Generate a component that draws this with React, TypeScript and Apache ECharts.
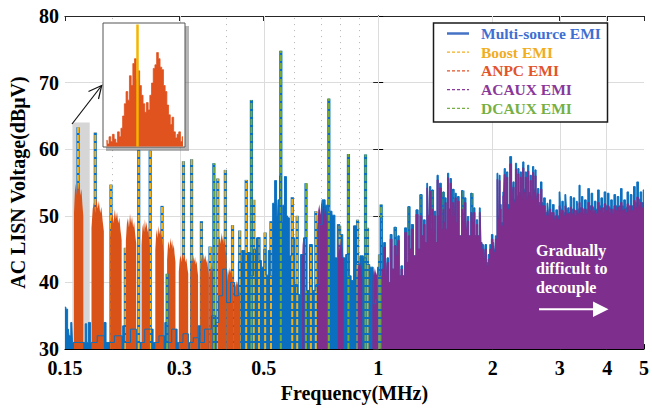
import React, { useEffect, useRef } from 'react';
import * as echarts from 'echarts';

const FONT = "'Liberation Serif', 'Times New Roman', Times, serif";
const BLUE = '#0b6fbf';
const YELLOW = '#EDB120';
const ORANGE = '#D95319';
const PURPLE = '#7E2F8E';
const GREEN = '#77AC30';

// ---- axes ----
const tickFreqs = [0.15, 0.3, 0.5, 1, 2, 3, 4, 5];
const tickLabels = ['0.15', '0.3', '0.5', '1', '2', '3', '4', '5'];
const majorGridFreqs = [0.3, 0.5, 1, 2, 3, 4];
const minorGridFreqs = [0.2, 0.4, 0.6, 0.7, 0.8, 0.9];
const yMin = 30;
const yMax = 80;
const yStep = 10;

// ---- Multi-source EMI envelope (MHz, dBuV) ----
const multiFreq = [0.1500,0.1518,0.1532,0.1545,0.1564,0.1577,0.1689,0.1704,0.1719,0.1740,0.1761,0.1890,0.1913,0.1936,0.2116,0.2141,0.2166,0.2299,0.2327,0.2543,0.2574,0.2731,0.2764,0.2797,0.2933,0.2985,0.3149,0.3187,0.3342,0.3382,0.3422,0.3568,0.3719,0.3763,0.3853,0.3947,0.4041,0.4139,0.4238,0.4340,0.4417,0.4496,0.4577,0.4660,0.4743,0.4828,0.4886,0.4974,0.5034,0.5094,0.5186,0.5247,0.5310,0.5373,0.5437,0.5470,0.5535,0.5585,0.5635,0.5702,0.5770,0.5804,0.5873,0.5979,0.6086,0.6195,0.6307,0.6421,0.6536,0.6653,0.6773,0.6935,0.7060,0.7186,0.7316,0.7491,0.7626,0.7763,0.7856,0.7997,0.8141,0.8287,0.8436,0.8537,0.8690,0.8846,0.9059,0.9221,0.9387,0.9613,0.9785,0.9902,1.0020,1.0080,1.0200,1.0291,1.0383,1.0507,1.0588,1.0696,1.0804,1.0953,1.1084,1.1217,1.1303,1.1417,1.1534,1.1656,1.1808,1.1935,1.2045,1.2153,1.2283,1.2481,1.2652,1.2819,1.2957,1.3088,1.3219,1.3362,1.3482,1.3586,1.3700,1.3806,1.3889,1.4012,1.4113,1.4222,1.4333,1.4436,1.4537,1.4780,1.4826,1.4938,1.5028,1.5154,1.5271,1.5390,1.5518,1.5638,1.5732,1.5872,1.5983,1.6110,1.6206,1.6448,1.6695,1.6793,1.6924,1.7095,1.7197,1.7403,1.7642,1.7767,1.7895,1.8033,1.8174,1.8357,1.8544,1.8687,1.8798,1.9023,1.9170,1.9365,1.9560,1.9747,1.9947,2.0126,2.0222,2.0427,2.0634,2.0733,2.0880,2.0954,2.1167,2.1383,2.1512,2.1676,2.1805,2.2025,2.2328,2.2528,2.2690,2.2866,2.3042,2.3208,2.3371,2.3553,2.3694,2.3905,2.4077,2.4264,2.4452,2.4628,2.4801,2.4994,2.5189,2.5367,2.5550,2.5748,2.5900,2.6133,2.6317,2.6602,2.6838,2.7078,2.7369,2.7649,2.7926,2.8144,2.8311,2.8564,2.8872,2.9165,2.9460,2.9777,3.0043,3.0273,3.0530,3.0812,3.1133,3.1375,3.1635,3.1880,3.2068,3.2396,3.2703,3.3037,3.3369,3.3628,3.3828,3.4088,3.4377,3.4702,3.5057,3.5409,3.5747,3.6110,3.6479,3.6824,3.7201,3.7574,3.7933,3.8318,3.8710,3.9076,3.9475,3.9872,4.0252,4.0661,4.1076,4.1465,4.1889,4.2309,4.2713,4.3146,4.3588,4.4000,4.4450,4.4896,4.5325,4.5785,4.6253,4.6690,4.7168,4.7642,4.8097,4.8584,4.9081,4.9546,5.0000];
const multiLevel = [36.3,36,33,32,34,31,31,33.8,31,34,31,32,34,31,32,33.5,31,33,31,33,31,32,34,31,33,31,32.3,31,31.7,33.5,31,33,35,34,38,42,37,40,38,43,44.8,43,44.5,41,45,46.7,43.3,42.3,45,41.1,44.8,41,51.9,55.3,50,52.4,56,49,51.6,55.9,50,49.7,44,46.7,39.7,38.2,44.2,46.7,38.8,45.7,38.8,39.7,48.7,52.4,51.6,50.7,50.1,43.7,48.7,47.2,43.7,44.2,41,40.3,48.5,42.7,44,43.7,42.7,42.3,36.8,37.4,42.3,41,49.7,42,46,41,43.7,40,47.2,42,48.3,44,47,41,42.5,41,48.2,43,51.4,45,48.7,44,50.9,45,53.2,47,49.4,46,54.9,50,54.4,48,53.9,47,50.7,46,56.1,50,54.9,48,53.6,49,52.7,48,56.4,51,55.6,50,54,50,53.4,49,52.9,47,53.8,49,52.7,48,49.9,47,53.4,49,51.2,47,49.4,47,51.2,46,45.7,44,45.7,43,44.2,45.7,47.2,46,45,47,56.4,50,56.1,51.7,49,53.6,57.1,52,56.6,51.7,58.9,53,55.1,52.5,57.9,53,57.1,53.5,56.6,53,58.1,54,56.6,53,57.6,53.5,56.1,53,57.4,54,56.9,53,54.1,52,55.1,52,52.7,50.5,51.9,50.5,52.4,50.5,51.7,50,50.9,50,53.6,51,52.2,50.5,53.2,51,51.2,50.5,52.9,51,52.7,50.8,52.2,51,54.6,51.2,52.9,51,52.4,51,54.1,51.5,53.4,51.3,52.2,51,53.9,51.5,52.7,51.2,53.6,51.5,53.4,51.3,52.4,51,53.2,51.5,52.9,51.5,54.1,51.5,52.4,51.3,53.6,51.5,53.2,51.5,54.4,52,55.1,52.5,53.6,52,53.9];

// ---- ACAUX EMI broadband part above 1 MHz ----
const acauxFreq = [1.0150,1.0291,1.0383,1.0507,1.0588,1.0696,1.0804,1.0953,1.1084,1.1217,1.1303,1.1417,1.1534,1.1656,1.1808,1.1935,1.2045,1.2153,1.2283,1.2481,1.2652,1.2819,1.2957,1.3088,1.3219,1.3362,1.3482,1.3586,1.3700,1.3806,1.3889,1.4012,1.4113,1.4222,1.4333,1.4436,1.4537,1.4780,1.4826,1.4938,1.5028,1.5154,1.5271,1.5390,1.5518,1.5638,1.5732,1.5872,1.5983,1.6110,1.6206,1.6448,1.6695,1.6793,1.6924,1.7095,1.7197,1.7403,1.7642,1.7767,1.7895,1.8033,1.8174,1.8357,1.8544,1.8687,1.8798,1.9023,1.9170,1.9365,1.9560,1.9747,1.9947,2.0126,2.0222,2.0427,2.0634,2.0733,2.0880,2.0954,2.1167,2.1383,2.1512,2.1676,2.1805,2.2025,2.2328,2.2528,2.2690,2.2866,2.3042,2.3208,2.3371,2.3553,2.3694,2.3905,2.4077,2.4264,2.4452,2.4628,2.4801,2.4994,2.5189,2.5367,2.5550,2.5748,2.5900,2.6133,2.6317,2.6602,2.6838,2.7078,2.7369,2.7649,2.7926,2.8144,2.8311,2.8564,2.8872,2.9165,2.9460,2.9777,3.0043,3.0273,3.0530,3.0812,3.1133,3.1375,3.1635,3.1880,3.2068,3.2396,3.2703,3.3037,3.3369,3.3628,3.3828,3.4088,3.4377,3.4702,3.5057,3.5409,3.5747,3.6110,3.6479,3.6824,3.7201,3.7574,3.7933,3.8318,3.8710,3.9076,3.9475,3.9872,4.0252,4.0661,4.1076,4.1465,4.1889,4.2309,4.2713,4.3146,4.3588,4.4000,4.4450,4.4896,4.5325,4.5785,4.6253,4.6690,4.7168,4.7642,4.8097,4.8584,4.9081,4.9546,5.0000];
const acauxLevel = [30,42,45.3,41,43,40,46.5,42,45.5,44,46.3,41,42,41,47.5,43,47,45,48,44,50.2,45,50,47,48.7,46,54.2,50,53.7,48,51,47,50,46,55.4,50,54.2,48,51,49,52,48,55.7,51,54.9,50,52,50,52.7,49,52.2,47,51,49,52,48,49.2,47,50.5,49,50.5,47,48.7,47,50.5,46,45,43.5,45,42.5,43.5,45,46.5,45.5,44.5,46.5,55.5,49.5,55.3,51,48.5,53,56.2,51.5,55.8,51,57.8,52.5,54.3,52,57,52.5,56.3,53,55.8,52.5,57.2,53.5,55.8,52.5,56.7,53,55.3,52.5,56.5,53.5,56,52.5,53.3,51.5,54,51.5,51.5,50,50.8,50,51,50,50.5,49.5,50,49.5,51.5,50.3,50.8,50,51.5,50.3,50.3,49.8,51.3,50.3,51,50,50.8,50.3,52,50.5,51.2,50.3,51,50.3,52,50.8,51.5,50.5,50.8,50.3,52,50.8,51.2,50.5,51.8,50.8,51.5,50.5,51,50.3,51.5,50.8,51.3,50.8,52,50.8,51,50.5,51.8,50.8,51.5,50.8,52.3,51.2,52.8,51.5,52,51.2,52];

// ---- ACAUX EMI clusters below 1 MHz (start MHz, end MHz, peak dBuV) ----
const acauxHumpStart = [0.6310, 0.6910, 0.7830, 0.8820, 0.9650];
const acauxHumpEnd = [0.6480, 0.7380, 0.8120, 0.9080, 0.9980];
const acauxHumpPeak = [46.8, 52.4, 46.5, 43.5, 42.3];

// ---- ANPC EMI harmonic clusters ----
const anpcStart = [0.1585, 0.1762, 0.1973, 0.2170, 0.2386, 0.2593, 0.2785, 0.2990, 0.3210, 0.3406, 0.3595, 0.3790, 0.4000, 0.4170];
const anpcEnd = [0.1677, 0.1899, 0.2115, 0.2310, 0.2510, 0.2727, 0.2930, 0.3165, 0.3360, 0.3585, 0.3713, 0.3990, 0.4158, 0.4335];
const anpcPeak = [55.6, 52.7, 51.0, 50.3, 49.5, 48.5, 46.7, 44.5, 44.1, 44.4, 42.7, 47.5, 42.3, 40.3];

// ---- Boost EMI spectral lines ----
const boostFreq = [0.1624,0.1803,0.1983,0.2163,0.2345,0.2514,0.2701,0.3075,0.3230,0.3428,0.3612,0.3785,0.3963,0.4139,0.4322,0.4497,0.4707,0.4858,0.5043,0.5225,0.5943,0.6123,0.6653,0.6854,0.7917,0.8825,0.9372,1.0080];
const boostLevel = [63.3,62.5,54.7,45.2,59.9,59.8,51.5,58.2,58.5,49.2,45.4,55.6,56.9,48.6,47.8,55.4,52.4,46.8,47.5,49.2,52.8,50.0,45.5,50.7,48.5,49.4,48.2,44.2];

// ---- DCAUX EMI spectral lines ----
const dcauxFreq = [0.2786,0.3697,0.4640,0.5545,0.6459,0.7416,0.8351,0.9261,1.0182,1.1085,1.2045,1.2957,1.3889,1.4826,1.5732,1.6695,1.7642];
const dcauxLevel = [41.3,57.9,67.4,74.8,54.9,67.6,59.3,59.2,51.7,48.3,51.4,53.2,53.9,53.6,54.0,53.8,53.4];

// ---- highlighted cluster and zoomed inset ----
const highlightFreq = [0.157, 0.1743];
const highlightTop = 64;
const insetLevel = [5,2,8,4,10,6,3,12,8,15,25,35,45,38,58,50,68,72,55,62,50,42,35,28,36,30,42,52,64,67,77,72,65,63,50,45,34,26,18,24,12,7,10,12,4,8];
const insetBoostIndex = 18;

// ---- legend / annotation text ----
const legendNames = ['Multi-source EMI', 'Boost EMI', 'ANPC EMI', 'ACAUX EMI', 'DCAUX EMI'];
const legendTextColors = ['#3f6fd2', '#f0ae1e', '#e2542a', '#8a389a', '#76b044'];
const legendLineColors = ['#4472c4', '#f0b020', '#e2542a', '#8a389a', '#76b044'];
const annotationLines = ['Gradually', 'difficult to', 'decouple'];

const HUMP_SHAPE: number[][] = [[0,0],[0,0.8],[0.1,0.93],[0.2,0.97],[0.3,0.9],[0.4,1],[0.5,0.93],[0.6,0.98],[0.7,0.9],[0.8,0.94],[0.9,0.85],[1,0.78],[1,0]];

export default function App() {
  const ref = useRef<HTMLDivElement>(null);
  useEffect(() => {
    const chart = echarts.init(ref.current!, null, { renderer: 'svg' });
    const lg = (f: number) => Math.log10(f);
    const xMin = lg(0.15);
    const xMax = lg(5);
    const tickVals = tickFreqs.map(lg);
    const fmt = (v: number) => {
      let best = 0, bd = Infinity;
      tickVals.forEach((t, i) => { const d = Math.abs(t - v); if (d < bd) { bd = d; best = i; } });
      return tickLabels[best];
    };
    const bold20 = { fontFamily: FONT, fontWeight: 'bold' as const, fontSize: 20, color: '#000' };

    const stemSeries = (name: string, freqs: number[], vals: number[], color: string) => ({
      type: 'custom', name, xAxisIndex: 0, yAxisIndex: 0,
      data: freqs.map((f, i) => [lg(f), vals[i]]),
      encode: { x: 0, y: 1 },
      clip: true,
      renderItem: (params: any, api: any) => {
        const x = api.value(0), v = api.value(1);
        const p0 = api.coord([x, yMin]);
        const p1 = api.coord([x, v]);
        const shape = { x1: p0[0], y1: p0[1], x2: p1[0], y2: p1[1] };
        return {
          type: 'group',
          children: [
            { type: 'line', shape, style: { stroke: BLUE, lineWidth: 3.2 } },
            { type: 'line', shape, style: { stroke: color, lineWidth: 2, lineDash: [6, 2] } },
          ],
        };
      },
    });

    const humpSeries = (name: string, s: number[], e: number[], p: number[], color: string) => ({
      type: 'custom', name, xAxisIndex: 0, yAxisIndex: 0,
      data: s.map((f, i) => [lg(f), lg(e[i]), p[i]]),
      encode: { x: [0, 1], y: 2 },
      clip: true,
      renderItem: (params: any, api: any) => {
        const x1 = api.value(0), x2 = api.value(1), pk = api.value(2);
        const pts = HUMP_SHAPE.map(([t, h]) => api.coord([x1 + t * (x2 - x1), yMin + h * (pk - yMin)]));
        return { type: 'polygon', shape: { points: pts }, style: { fill: color } };
      },
    });

    const gridLineData = [
      ...majorGridFreqs.map((f) => ({ xAxis: lg(f), lineStyle: { color: '#dcdcdc', width: 1, type: 'solid' } })),
      ...minorGridFreqs.map((f) => ({ xAxis: lg(f), lineStyle: { color: '#b4b4b4', width: 1, type: [1, 5] } })),
    ];

    const legendGraphics: any[] = [
      { type: 'rect', shape: { x: 433.5, y: 23, width: 174, height: 99 }, style: { fill: '#fff', stroke: '#1a1a1a', lineWidth: 1.5 }, z: 100 },
    ];
    legendNames.forEach((n, i) => {
      const y = 33.5 + i * 18.7;
      legendGraphics.push({
        type: 'line', shape: { x1: 447, y1: y, x2: 469, y2: y },
        style: { stroke: legendLineColors[i], lineWidth: i === 0 ? 2.5 : 1.2, lineDash: i === 0 ? null : [3, 2] }, z: 101,
      });
      legendGraphics.push({
        type: 'text', x: 481, y,
        style: { text: n, fill: legendTextColors[i], fontSize: 15.5, fontWeight: 'bold', fontFamily: FONT, verticalAlign: 'middle', textVerticalAlign: 'middle' },
        z: 101,
      });
    });

    const annotation: any[] = annotationLines.map((t, i) => ({
      type: 'text', x: 536, y: 250.7 + i * 18.2,
      style: { text: t, fill: '#fff', fontSize: 16, fontWeight: 'bold', fontFamily: FONT, verticalAlign: 'middle', textVerticalAlign: 'middle' },
      z: 100,
    }));
    annotation.push({ type: 'line', shape: { x1: 539, y1: 309.3, x2: 596, y2: 309.3 }, style: { stroke: '#fff', lineWidth: 2 }, z: 100 });
    annotation.push({ type: 'polygon', shape: { points: [[593, 301.5], [608.5, 309.3], [593, 317]] }, style: { fill: '#fff' }, z: 100 });

    const insetFrame: any[] = [
      { type: 'rect', shape: { x: 106, y: 26, width: 83, height: 125 }, style: { fill: 'rgba(90,90,90,0.45)' }, z: 50 },
      { type: 'rect', shape: { x: 103, y: 23, width: 82, height: 124 }, style: { fill: '#fff', stroke: '#555', lineWidth: 1 }, z: 51 },
      { type: 'line', shape: { x1: 72, y1: 124, x2: 101.7, y2: 85.5 }, style: { stroke: '#111', lineWidth: 1.2 }, z: 52 },
      { type: 'polyline', shape: { points: [[88.5, 91.5], [101.7, 85.5], [98.5, 99]] }, style: { stroke: '#111', lineWidth: 1.2, fill: null }, z: 52 },
    ];

    const option: any = {
      animation: false,
      backgroundColor: '#fff',
      grid: [
        { left: 59, right: 2, top: 16, bottom: 55.3, show: false },
        { left: 106.5, top: 24.5, width: 76.5, height: 122, show: false },
      ],
      xAxis: [
        {
          type: 'value', gridIndex: 0, min: xMin, max: xMax, position: 'bottom',
          name: 'Frequency(MHz)', nameLocation: 'middle', nameGap: 29, nameTextStyle: bold20,
          axisLine: { show: true, lineStyle: { color: '#000', width: 1 } },
          axisTick: { show: true, inside: true, length: 5, customValues: tickVals, lineStyle: { color: '#000' } },
          axisLabel: { show: true, customValues: tickVals, formatter: fmt, margin: 9, ...bold20 },
          splitLine: { show: false },
        },
        {
          type: 'value', gridIndex: 0, min: xMin, max: xMax, position: 'top',
          axisLine: { show: true, lineStyle: { color: '#262626', width: 1 } },
          axisTick: { show: true, inside: true, length: 5, customValues: tickVals, lineStyle: { color: '#262626' } },
          axisLabel: { show: false },
          splitLine: { show: false },
        },
        { type: 'category', gridIndex: 1, data: insetLevel.map((_, i) => i), show: false, boundaryGap: false },
      ],
      yAxis: [
        {
          type: 'value', gridIndex: 0, min: yMin, max: yMax, interval: yStep, position: 'left',
          name: 'AC LISN Voltage(dBμV)', nameLocation: 'middle', nameGap: 29, nameTextStyle: bold20,
          axisLine: { show: true, lineStyle: { color: '#000', width: 1 } },
          axisTick: { show: true, inside: true, length: 5, lineStyle: { color: '#000' } },
          axisLabel: { show: true, margin: 6, ...bold20 },
          splitLine: { show: true, lineStyle: { color: '#dcdcdc', width: 1 } },
        },
        {
          type: 'value', gridIndex: 0, min: yMin, max: yMax, interval: yStep, position: 'right',
          axisLine: { show: true, lineStyle: { color: '#262626', width: 1 } },
          axisTick: { show: true, inside: true, length: 5, lineStyle: { color: '#262626' } },
          axisLabel: { show: false },
          splitLine: { show: false },
        },
        { type: 'value', gridIndex: 1, min: 0, max: 100, show: false },
      ],
      series: [
        {
          type: 'line', name: 'grid', xAxisIndex: 0, yAxisIndex: 0, z: 1,
          data: [[xMin, yMin]], symbol: 'none', lineStyle: { opacity: 0 }, silent: true,
          markLine: { silent: true, z: 1, symbol: 'none', label: { show: false }, data: gridLineData, animation: false },
          markArea: {
            silent: true, z: 1, itemStyle: { color: '#d6d6d6' }, label: { show: false },
            data: [[{ xAxis: lg(highlightFreq[0]), yAxis: yMin }, { xAxis: lg(highlightFreq[1]), yAxis: highlightTop }]],
          },
        },
        {
          type: 'line', name: 'Multi-source EMI', xAxisIndex: 0, yAxisIndex: 0, z: 2,
          data: multiFreq.map((f, i) => [lg(f), multiLevel[i]]),
          symbol: 'none', showSymbol: false, step: 'middle',
          lineStyle: { color: BLUE, width: 1 }, itemStyle: { color: BLUE },
          areaStyle: { color: BLUE, opacity: 1, origin: 'start' },
        },
        stemSeries('Boost EMI', boostFreq, boostLevel, YELLOW),
        humpSeries('ANPC EMI', anpcStart, anpcEnd, anpcPeak, ORANGE),
        humpSeries('ACAUX EMI', acauxHumpStart, acauxHumpEnd, acauxHumpPeak, PURPLE),
        {
          type: 'line', name: 'ACAUX EMI', xAxisIndex: 0, yAxisIndex: 0,
          data: acauxFreq.map((f, i) => [lg(f), acauxLevel[i]]),
          symbol: 'none', showSymbol: false, step: 'middle',
          lineStyle: { color: PURPLE, width: 0.8 }, itemStyle: { color: PURPLE },
          areaStyle: { color: PURPLE, opacity: 1, origin: 'start' },
        },
        stemSeries('DCAUX EMI', dcauxFreq, dcauxLevel, GREEN),
        {
          type: 'line', name: 'inset', xAxisIndex: 2, yAxisIndex: 2, z: 60,
          data: insetLevel, step: 'middle', symbol: 'none', showSymbol: false,
          lineStyle: { color: '#E0521E', width: 0.8 }, itemStyle: { color: '#E0521E' },
          areaStyle: { color: '#E0521E', opacity: 1, origin: 'start' },
          markLine: {
            silent: true, z: 61, symbol: 'none', label: { show: false },
            data: [{ xAxis: insetBoostIndex }],
            lineStyle: { color: '#F5B400', width: 2.5, type: 'solid' },
          },
        },
      ],
      graphic: [...insetFrame, ...legendGraphics, ...annotation],
    };
    chart.setOption(option);
    return () => chart.dispose();
  }, []);
  return <div ref={ref} style={{ position: 'fixed', left: 0, top: 0, width: 652, height: 408 }} />;
}
